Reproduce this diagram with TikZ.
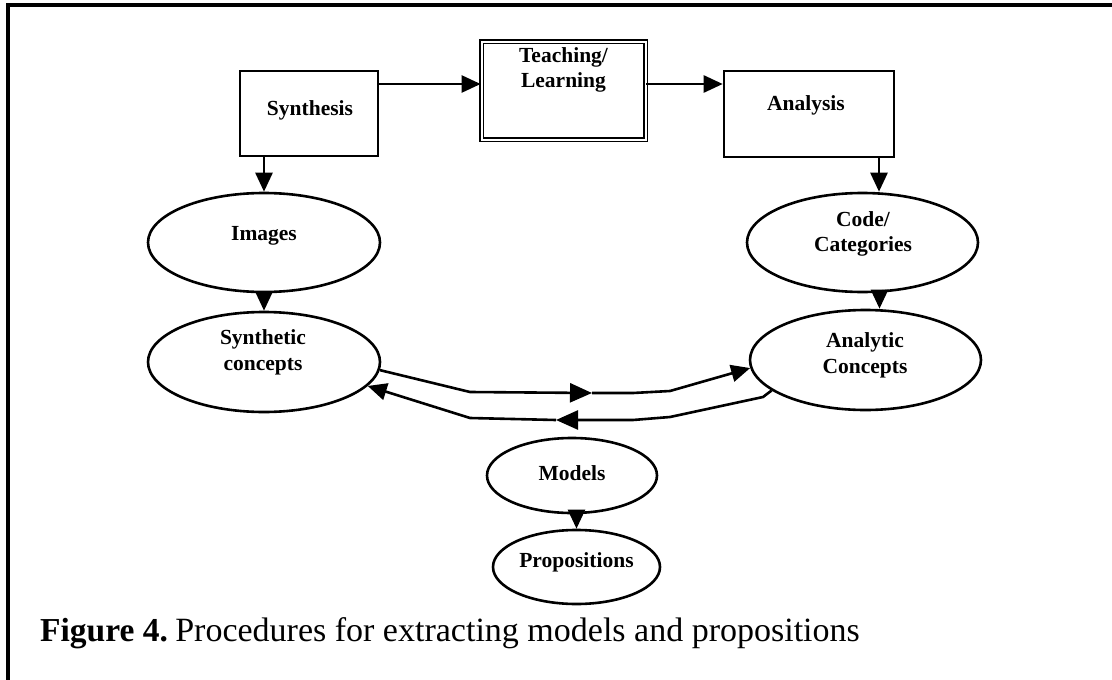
\documentclass[tikz,border=0pt]{standalone}
\usepackage{fontspec}
\setmainfont{Liberation Serif}
\usetikzlibrary{arrows.meta,shapes.geometric}
\begin{document}
\begin{tikzpicture}[x=1pt,y=-1pt,
  boxn/.style={draw,line width=2.6pt,rectangle,inner sep=0pt},
  dboxn/.style={draw,line width=1.8pt,double,double distance=2pt,rectangle,inner sep=0pt},
  ell/.style={draw,line width=2.6pt,ellipse,inner sep=0pt},
  lbl/.style={font=\bfseries\fontsize{21.5}{25.5}\selectfont,align=center,inner sep=0pt},
  arr/.style={line width=2.6pt,-{Triangle[length=19pt,width=17pt]}},
  midarr/.style={line width=2.6pt,-{Triangle[length=22pt,width=19pt]}}]
\useasboundingbox (0,0) rectangle (1112,680);
\clip (0,0) rectangle (1112,680);
% frame
\draw[line width=3.2pt] (8,700) -- (8,5) -- (1130,5);
% boxes
\node[boxn,minimum width=138pt,minimum height=85pt] (syn) at (309,113.5) {};
\node[lbl] (syn-t) at (310,110) {Synthesis};
\node[dboxn,minimum width=164pt,minimum height=98pt] (tl) at (563.5,90.5) {};
\node[lbl] (tl-t) at (563.5,70) {Teaching/\\Learning};
\node[boxn,minimum width=170pt,minimum height=86pt] (an) at (809,114) {};
\node[lbl] (an-t) at (806,105) {Analysis};
% ellipses
\node[ell,minimum width=232pt,minimum height=99pt] (img) at (264,242.5) {};
\node[lbl] (img-t) at (264,236) {Images};
\node[ell,minimum width=232pt,minimum height=100pt] (sc) at (264,362) {};
\node[lbl] (sc-t) at (263,352.5) {Synthetic\\concepts};
\node[ell,minimum width=231pt,minimum height=99pt] (cc) at (862.5,242.5) {};
\node[lbl] (cc-t) at (863,234) {Code/\\Categories};
\node[ell,minimum width=231pt,minimum height=100pt] (ac) at (865.5,360) {};
\node[lbl] (ac-t) at (865,355.5) {Analytic\\Concepts};
\node[ell,minimum width=170pt,minimum height=75pt] (mod) at (572,475.5) {};
\node[lbl] (mod-t) at (572,473) {Models};
\node[ell,minimum width=167pt,minimum height=74pt] (prop) at (576.5,567) {};
\node[lbl] (prop-t) at (576.5,562) {Propositions};
% top arrows
\draw[arr] ([yshift=29.5pt]syn.east) -- ([yshift=29.5pt]syn.east -| tl.west);
\draw[arr] ([yshift=6.5pt]tl.east) -- ([yshift=6.5pt]tl.east -| an.west);
% vertical arrows
\draw[arr] (syn.south -| img.north) -- (img.north);
\draw[arr] (img.south) -- (img.south |- sc.north);
\draw[arr] ([xshift=70pt]an.south) -- ([xshift=70pt]an.south |- cc.north);
\draw[arr] ([xshift=17pt]cc.south) -- ([xshift=17pt]cc.south |- ac.north);
\draw[arr] (mod.south -| prop.north) -- (prop.north);
% curved double connectors
\coordinate (m1) at (592,393);
\coordinate (m2) at (556,420);
\draw[midarr,line join=round] (sc.-4) -- (470,392) -- (m1);
\draw[arr,line join=round] (m1) -- (633,393) -- (670,391) -- (ac.184);
\draw[midarr,line join=round] (ac.198) -- (763,397) -- (670,417) -- (633,420) -- (m2);
\draw[arr,line join=round] (m2) -- (470,418) -- (sc.-13);
% caption
\node[anchor=base west,inner sep=0pt,font=\fontsize{34}{40}\selectfont] (cap) at (40,641) {\textbf{\fontsize{33.5}{40}\selectfont Figure 4.}\hspace{-4pt} Procedures for extracting models and propositions};
\end{tikzpicture}
\end{document}
